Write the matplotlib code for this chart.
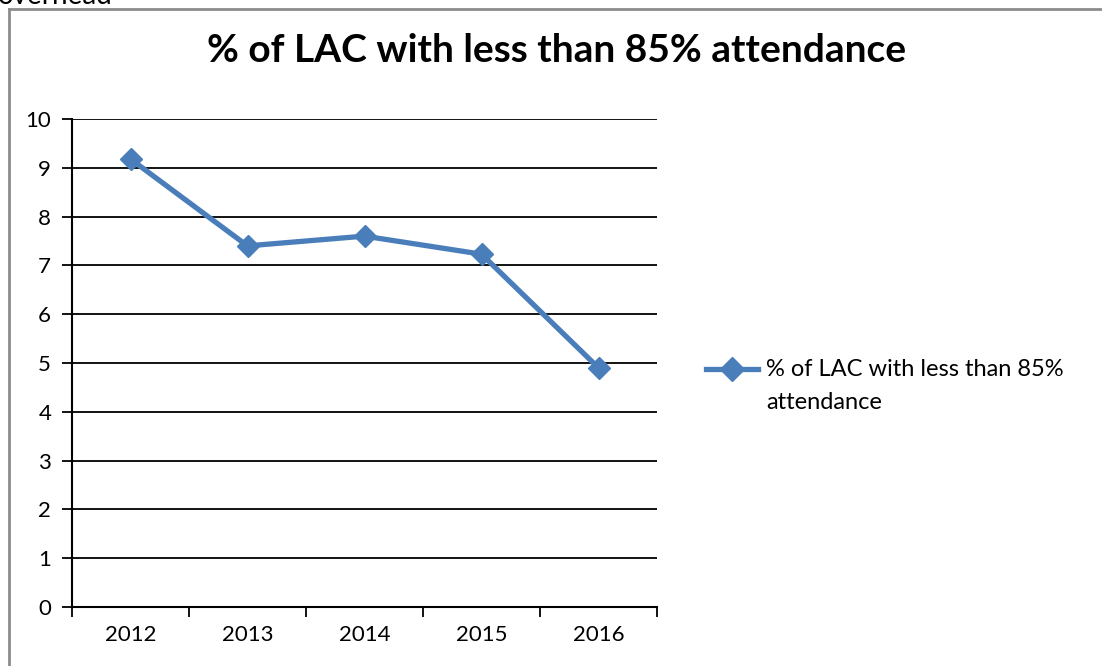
import matplotlib
matplotlib.use("Agg")
import matplotlib.pyplot as plt
from matplotlib.lines import Line2D

years = ["2012", "2013", "2014", "2015", "2016"]
pct_low_attendance = [9.18, 7.40, 7.60, 7.23, 4.90]
y_ticks = [0, 1, 2, 3, 4, 5, 6, 7, 8, 9, 10]

series_name = "% of LAC with less than 85%\nattendance"
title = "% of LAC with less than 85% attendance"
blue = "#4A7EBB"

plt.rcParams['font.family'] = ['Lato', 'DejaVu Sans']

fig = plt.figure(figsize=(11.02, 6.66), dpi=100)
W, H = 1102, 666

# chart frame (only left and top edges fall inside the page)
fig.add_artist(Line2D([9 / W, 9 / W], [0, 1 - 9 / H], color="#8c8c8c", lw=2))
fig.add_artist(Line2D([9 / W, 1], [1 - 9 / H, 1 - 9 / H], color="#8c8c8c", lw=2))

# tail of the word from the text above the chart
fig.text(-0.002, 1 + 4 / H, "overhead", fontsize=20, va="center", ha="left")

ax = fig.add_axes([72 / W, 1 - 607 / H, (657 - 72) / W, (607 - 119) / H])
x = range(len(years))
ax.plot(x, pct_low_attendance, color=blue, lw=3.8, marker="D", ms=11,
        markeredgecolor=blue, markerfacecolor=blue, zorder=3)

ax.set_xlim(-0.5, len(years) - 0.5)
ax.set_ylim(0, 10)
ax.set_yticks(y_ticks)
for t in y_ticks[1:]:
    ax.axhline(t, color="black", lw=1.3, zorder=1)

ax.set_xticks([i + 0.5 for i in range(-1, len(years))])
ax.set_xticklabels([])
ax.set_xticks(list(x), minor=True)
ax.set_xticklabels(years, minor=True, fontsize=16)
ax.tick_params(axis="x", which="major", length=7, width=1.3, direction="out")
ax.tick_params(axis="x", which="minor", length=0, pad=13)
ax.tick_params(axis="y", length=7, width=1.3, labelsize=16, pad=8)

for side in ["top", "right"]:
    ax.spines[side].set_visible(False)
for side in ["left", "bottom"]:
    ax.spines[side].set_linewidth(1.5)

fig.text(557 / W, 1 - 50 / H, title, fontsize=28, fontweight="bold",
         ha="center", va="center")

# legend: handle sits level with the first line of the wrapped label
fig.add_artist(Line2D([706 / W, 758 / W], [1 - 369 / H] * 2, color=blue, lw=3.8))
fig.add_artist(Line2D([732 / W], [1 - 369 / H], color=blue, marker="D", ms=12,
                      markeredgecolor=blue, markerfacecolor=blue))
fig.text(766 / W, 1 - 359 / H, series_name, fontsize=17, ha="left", va="top",
         linespacing=1.68)

fig.savefig("out.png", dpi=100)
